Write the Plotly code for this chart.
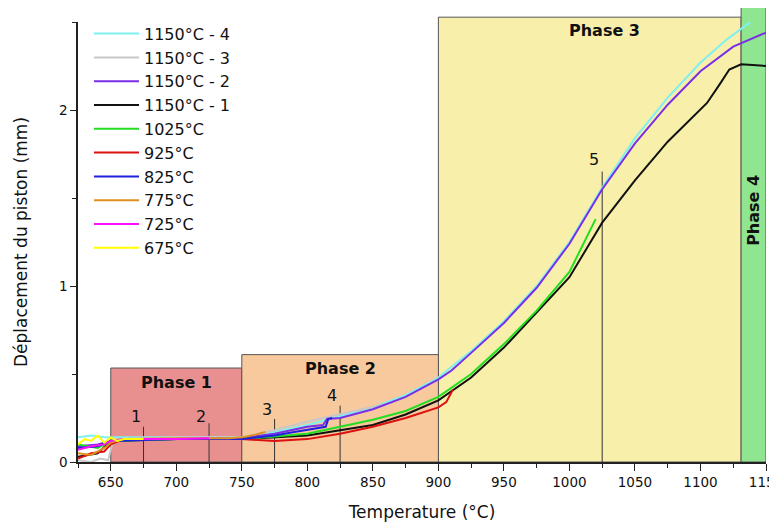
import plotly.graph_objects as go

# displacement of the piston vs temperature, one curve per test
T_1150_4 = [625, 635, 645, 650, 700, 750, 775, 800, 825, 850, 875, 900, 925, 950, 975, 1000, 1025, 1050, 1075, 1100, 1120, 1138]
D_1150_4 = [0.14, 0.15, 0.14, 0.14, 0.14, 0.14, 0.17, 0.21, 0.26, 0.31, 0.38, 0.48, 0.63, 0.80, 1.00, 1.25, 1.56, 1.84, 2.07, 2.27, 2.40, 2.50]

T_1150_3 = [625, 635, 642, 648, 652, 700, 750, 775, 800, 825, 850, 860]
D_1150_3 = [0.01, 0.00, 0.02, 0.01, 0.13, 0.14, 0.14, 0.18, 0.23, 0.27, 0.31, 0.33]

T_1150_2 = [625, 640, 650, 700, 750, 775, 800, 812, 815, 825, 850, 875, 900, 910, 925, 950, 975, 1000, 1025, 1050, 1075, 1100, 1125, 1150]
D_1150_2 = [0.09, 0.10, 0.12, 0.13, 0.135, 0.16, 0.20, 0.21, 0.245, 0.25, 0.30, 0.37, 0.47, 0.52, 0.62, 0.79, 0.99, 1.24, 1.55, 1.81, 2.03, 2.22, 2.36, 2.44]

T_1150_1 = [625, 640, 650, 700, 750, 800, 850, 875, 900, 925, 950, 975, 1000, 1025, 1050, 1075, 1090, 1100, 1105, 1115, 1122, 1131, 1150]
D_1150_1 = [0.03, 0.05, 0.12, 0.13, 0.13, 0.15, 0.21, 0.27, 0.35, 0.48, 0.65, 0.85, 1.05, 1.36, 1.60, 1.82, 1.93, 2.00, 2.04, 2.15, 2.23, 2.26, 2.25]

T_1025 = [625, 640, 650, 700, 750, 800, 850, 875, 900, 925, 950, 975, 1000, 1020]
D_1025 = [0.10, 0.08, 0.12, 0.13, 0.13, 0.16, 0.24, 0.29, 0.37, 0.50, 0.67, 0.86, 1.08, 1.38]

T_925 = [625, 635, 645, 650, 660, 700, 750, 775, 800, 825, 850, 875, 900, 906, 911]
D_925 = [0.02, 0.05, 0.06, 0.10, 0.13, 0.13, 0.13, 0.12, 0.13, 0.16, 0.20, 0.25, 0.31, 0.34, 0.41]

T_825 = [625, 640, 650, 700, 750, 775, 790, 805, 814, 816, 819]
D_825 = [0.08, 0.09, 0.12, 0.13, 0.13, 0.15, 0.17, 0.19, 0.20, 0.245, 0.25]

T_775 = [625, 635, 645, 650, 660, 700, 740, 750, 760, 768]
D_775 = [0.05, 0.04, 0.08, 0.11, 0.13, 0.135, 0.135, 0.14, 0.155, 0.17]

T_725 = [625, 635, 645, 650, 660, 700, 725]
D_725 = [0.07, 0.09, 0.10, 0.12, 0.13, 0.13, 0.135]

T_675 = [625, 630, 635, 640, 645, 650, 655, 660, 665, 675]
D_675 = [0.10, 0.13, 0.12, 0.15, 0.11, 0.14, 0.12, 0.13, 0.13, 0.13]

series = [
    ("1150°C - 4", T_1150_4, D_1150_4, "#7FF0F0"),
    ("1150°C - 3", T_1150_3, D_1150_3, "#C8C8C8"),
    ("1150°C - 2", T_1150_2, D_1150_2, "#7A2EE6"),
    ("1150°C - 1", T_1150_1, D_1150_1, "#111111"),
    ("1025°C", T_1025, D_1025, "#22DD22"),
    ("925°C", T_925, D_925, "#DD1010"),
    ("825°C", T_825, D_825, "#2020DD"),
    ("775°C", T_775, D_775, "#E09020"),
    ("725°C", T_725, D_725, "#FF10FF"),
    ("675°C", T_675, D_675, "#FFFF00"),
]

# phases: name, start, end, top, colour
phases = [
    ("Phase 1", 650, 750, 0.534, "#E89090"),
    ("Phase 2", 750, 900, 0.61, "#F8C99C"),
]
# markers 1..5: temperature, top of line
marker_T = [675, 725, 775, 825, 1025]
marker_top = [0.2, 0.22, 0.245, 0.32, 1.65]
marker_lbl = [0.26, 0.26, 0.30, 0.38, 1.72]

FONT = "DejaVu Sans, sans-serif"

fig = go.Figure()
for name, x, y, c in series:
    fig.add_trace(go.Scatter(x=x, y=y, name=name, mode="lines",
                             line=dict(color=c, width=2)))

shapes = []
for name, x0, x1, top, c in phases:
    shapes.append(dict(type="rect", xref="x", yref="y", x0=x0, x1=x1, y0=0, y1=top,
                       fillcolor=c, line=dict(color="#555555", width=1), layer="below"))
# phase 3 and 4 go a bit over the top of the frame
shapes.append(dict(type="rect", xref="x", yref="paper", x0=900, x1=1131, y0=0, y1=1.011,
                   fillcolor="#F8EFAA", line=dict(color="#555555", width=1), layer="below"))
shapes.append(dict(type="rect", xref="x", yref="paper", x0=1131, x1=1150, y0=0, y1=1.034,
                   fillcolor="#90E690", line=dict(color="#555555", width=1), layer="below"))
for t, top in zip(marker_T, marker_top):
    shapes.append(dict(type="line", xref="x", yref="y", x0=t, x1=t, y0=0, y1=top,
                       line=dict(color="#333333", width=1), layer="below"))

annots = [
    dict(x=700, y=0.45, text="<b>Phase 1</b>", font=dict(size=16)),
    dict(x=825, y=0.53, text="<b>Phase 2</b>", font=dict(size=16)),
    dict(x=1027, y=2.45, text="<b>Phase 3</b>", font=dict(size=16)),
    dict(x=1140.5, y=1.43, text="<b>Phase 4</b>", textangle=-90, font=dict(size=16)),
]
for i, (t, ly) in enumerate(zip(marker_T, marker_lbl)):
    annots.append(dict(x=t - 6, y=ly, text=str(i + 1), font=dict(size=16)))
for a in annots:
    a["font"].update(family=FONT, color="#111111")
    a.update(xref="x", yref="y", showarrow=False)

# the page body has an 8px margin, so the plot box is moved up/left by that much
fig.update_layout(
    width=777, height=529,
    margin=dict(l=70, r=19, t=14, b=75, autoexpand=False),
    paper_bgcolor="white", plot_bgcolor="white",
    font=dict(family=FONT, size=14, color="#111111"),
    shapes=shapes, annotations=annots,
    showlegend=True,
    legend=dict(x=0.016, y=1.012, xanchor="left", yanchor="top", bgcolor="rgba(0,0,0,0)",
                font=dict(family=FONT, size=16, color="#111111"), itemwidth=45,
                tracegroupgap=0),
)
fig.update_xaxes(range=[625, 1150], tickvals=[650, 700, 750, 800, 850, 900, 950, 1000, 1050, 1100, 1150],
                 ticks="outside", ticklen=7, tickcolor="#222", showline=True, linecolor="#222", linewidth=1.5,
                 showgrid=False, zeroline=False, automargin=False, ticklabeloverflow="allow",
                 tickfont=dict(size=13.5),
                 minor=dict(tickvals=[625, 675, 725, 775, 825, 875, 925, 975, 1025, 1075, 1125],
                            ticks="outside", ticklen=4, tickcolor="#222"),
                 title=dict(text="Temperature (°C)", font=dict(size=17), standoff=17))
fig.update_yaxes(range=[0, 2.5], tickvals=[0, 1, 2],
                 ticks="outside", ticklen=6, tickcolor="#222", showline=True, linecolor="#222", linewidth=1.5,
                 showgrid=False, zeroline=False, automargin=False,
                 tickfont=dict(size=13.5),
                 minor=dict(tickvals=[0.5, 1.5, 2.5], ticks="outside", ticklen=4, tickcolor="#222"),
                 title=dict(text="Déplacement du piston (mm)", font=dict(size=17), standoff=27))

fig.write_html("out.html")
